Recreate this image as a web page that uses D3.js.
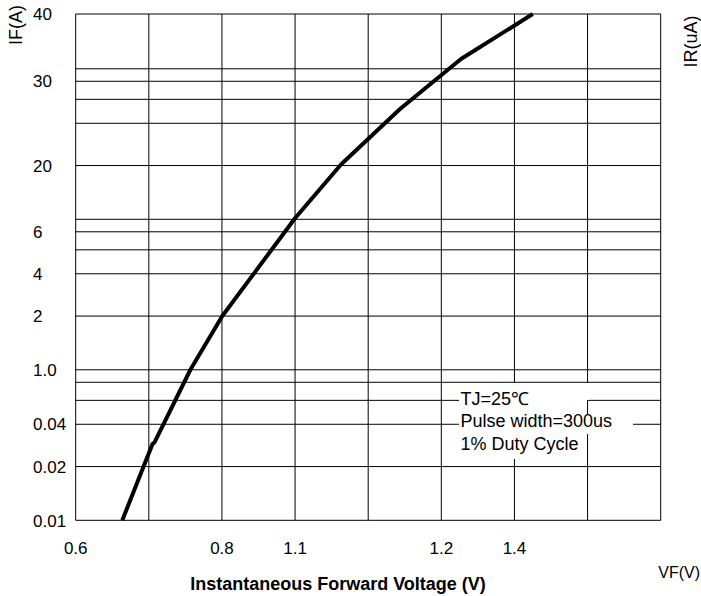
<!DOCTYPE html>
<html>
<head>
<meta charset="utf-8">
<script src="https://cdn.jsdelivr.net/npm/d3@7"></script>
<style>
  html, body { margin: 0; padding: 0; background: #fff; }
  svg { display: block; font-family: "Liberation Sans", Arial, sans-serif; }
</style>
</head>
<body>
<svg id="chart" width="701" height="596"></svg>
<script>
// ---- Data ----
// X axis: voltage, 0.1 V per grid column
const xGridValues = [0.6, 0.7, 0.8, 0.9, 1.0, 1.1, 1.2, 1.3, 1.4];
const xTickValues = [0.6, 0.8, 0.9, 1.1, 1.2];
const xTickLabels = ["0.6", "0.8", "1.1", "1.2", "1.4"];

// Y axis: position in log-decade units (0 = bottom of grid)
const yGridValues = [0, 0.357, 0.638, 0.797, 0.917, 1, 1.357, 1.638, 1.797, 1.917,
                     2, 2.357, 2.638, 2.797, 2.917, 3, 3.364];
const yTickValues = [0, 0.357, 0.638, 1, 1.357, 1.638, 1.917, 2.357, 2.917, 3.364];
const yTickLabels = ["0.01", "0.02", "0.04", "1.0", "2", "4", "6", "20", "30", "40"];

// Curve: forward voltage (V) vs. current position (decade units)
const curveVF = [0.6637, 0.7050, 0.7078, 0.7570, 0.8005, 0.8999, 0.9628, 1.0435, 1.1269, 1.2250];
const curveIF = [0,      0.507,  0.518,  1.002,  1.357,  2.007,  2.364,  2.733,  3.065,  3.364];

const legendLines = ["TJ=25\u2103", "Pulse width=300us", "1% Duty Cycle"];

// ---- Layout ----
const svg = d3.select("#chart");
const x = d3.scaleLinear().domain([0.6, 1.4]).range([75.7, 660.7]);
const y = d3.scaleLinear().domain([0, 3.364]).range([520.3, 14]);

// Grid
const grid = svg.append("g").attr("stroke", "#000").attr("stroke-width", 1);
grid.selectAll("line.v").data(xGridValues).join("line")
  .attr("class", "v")
  .attr("x1", d => x(d)).attr("x2", d => x(d))
  .attr("y1", y(0)).attr("y2", y(3.364));
grid.selectAll("line.h").data(yGridValues).join("line")
  .attr("class", "h")
  .attr("x1", x(0.6)).attr("x2", x(1.4))
  .attr("y1", d => y(d)).attr("y2", d => y(d));

// Legend background (covers grid behind text)
const bg = svg.append("g").attr("fill", "#fff");
bg.append("rect").attr("x", 459).attr("y", 383).attr("width", 130).attr("height", 17);
bg.append("rect").attr("x", 459).attr("y", 400).attr("width", 128).attr("height", 59);
bg.append("rect").attr("x", 586).attr("y", 414).attr("width", 47).attr("height", 20);

// Curve
const line = d3.line().x(d => x(d[0])).y(d => y(d[1]));
svg.append("path")
  .datum(curveVF.map((v, i) => [v, curveIF[i]]))
  .attr("d", line)
  .attr("fill", "none")
  .attr("stroke", "#000")
  .attr("stroke-width", 4)
  .attr("stroke-linejoin", "round");

// Y tick labels (left aligned)
svg.append("g").selectAll("text").data(yTickValues).join("text")
  .attr("x", 33)
  .attr("y", d => y(d) + 6.2)
  .attr("font-size", 17)
  .attr("fill", "#000")
  .text((d, i) => yTickLabels[i]);

// X tick labels
svg.append("g").selectAll("text").data(xTickValues).join("text")
  .attr("x", d => x(d))
  .attr("y", 554)
  .attr("text-anchor", "middle")
  .attr("font-size", 17)
  .attr("fill", "#000")
  .text((d, i) => xTickLabels[i]);

// Axis titles
svg.append("text")
  .attr("x", 338).attr("y", 590)
  .attr("text-anchor", "middle")
  .attr("font-size", 18).attr("font-weight", "bold")
  .text("Instantaneous Forward Voltage (V)");

svg.append("text")
  .attr("x", 700).attr("y", 578)
  .attr("text-anchor", "end")
  .attr("font-size", 16)
  .text("VF(V)");

svg.append("text")
  .attr("transform", "translate(21.5,25) rotate(-90)")
  .attr("text-anchor", "middle")
  .attr("font-size", 18)
  .text("IF(A)");

svg.append("text")
  .attr("transform", "translate(696.5,41.5) rotate(-90)")
  .attr("text-anchor", "middle")
  .attr("font-size", 18)
  .text("IR(uA)");

// Legend text
svg.append("g").selectAll("text").data(legendLines).join("text")
  .attr("x", 460.5)
  .attr("y", (d, i) => 404.5 + i * 22.8)
  .attr("font-size", 18)
  .text(d => d);
</script>
</body>
</html>
